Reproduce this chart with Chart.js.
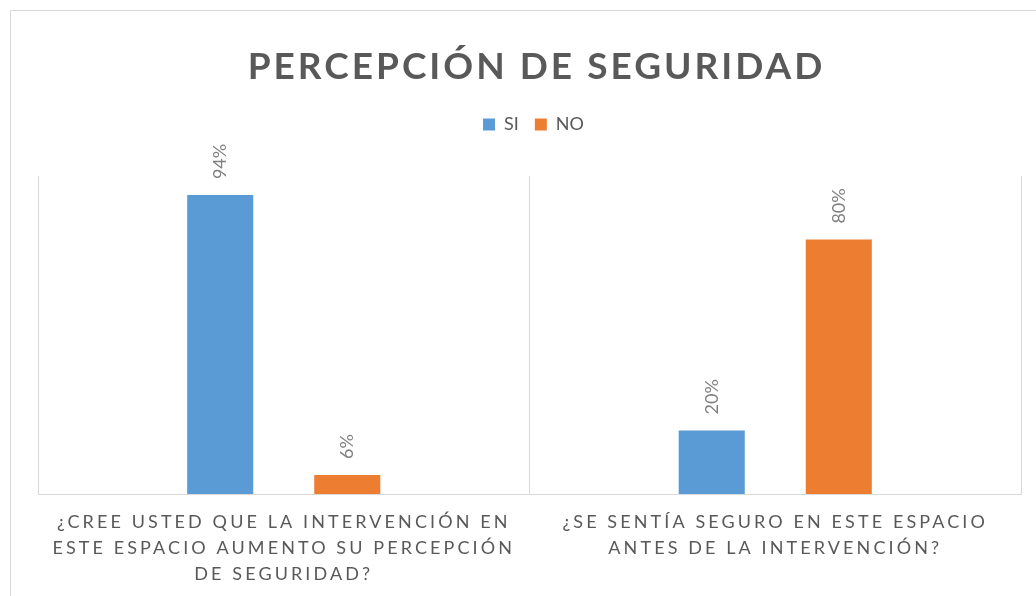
<!DOCTYPE html>
<html>
<head>
<meta charset="utf-8">
<script src="https://cdn.jsdelivr.net/npm/chart.js@4/dist/chart.umd.min.js"></script>
<style>
  html, body { margin: 0; padding: 0; background: #ffffff; overflow: hidden; }
  #frame { position: absolute; left: 10px; top: 10px; width: 1100px; height: 700px; border: 1px solid #d9d9d9; box-sizing: border-box; }
  #wrap { position: absolute; left: 0; top: 0; width: 1036px; height: 596px; }
</style>
</head>
<body>
<div id="frame"></div>
<div id="wrap"><canvas id="c" width="1036" height="596"></canvas></div>
<script>
const chartTitle = 'PERCEPCIÓN DE SEGURIDAD';
const categories = [
  ['¿CREE USTED QUE LA INTERVENCIÓN EN', 'ESTE ESPACIO AUMENTO SU PERCEPCIÓN', 'DE SEGURIDAD?'],
  ['¿SE SENTÍA SEGURO EN ESTE ESPACIO', 'ANTES DE LA INTERVENCIÓN?']
];
const seriesNames = ['SI', 'NO'];
const siValues = [0.94, 0.20];
const noValues = [0.06, 0.80];

const TEXT = '#595959';
const GRID = '#d9d9d9';

const spacingPlugin = {
  id: 'spacing',
  beforeDraw(chart) {
    if (chart.$patched) return;
    chart.$patched = true;
    const tb = chart.titleBlock;
    const origTitle = tb.draw;
    tb.draw = function () {
      const ctx = this.ctx;
      ctx.save();
      ctx.translate(7, 0);
      ctx.letterSpacing = '3px';
      origTitle.apply(this, arguments);
      ctx.restore();
    };
    const lg = chart.legend;
    const origLegend = lg.draw;
    lg.draw = function () {
      const ctx = this.ctx;
      ctx.save();
      ctx.translate(4, 0);
      origLegend.apply(this, arguments);
      ctx.restore();
    };
    const xs = chart.scales.x;
    const origLabels = xs.drawLabels;
    xs.drawLabels = function () {
      const ctx = this.ctx;
      ctx.save();
      ctx.letterSpacing = '3.1px';
      origLabels.apply(this, arguments);
      ctx.restore();
    };
  }
};

const valueLabels = {
  id: 'valueLabels',
  afterDatasetsDraw(chart) {
    const ctx = chart.ctx;
    ctx.save();
    ctx.font = '18px Lato';
    ctx.fillStyle = '#808080';
    ctx.textAlign = 'left';
    ctx.textBaseline = 'middle';
    chart.data.datasets.forEach((ds, di) => {
      const meta = chart.getDatasetMeta(di);
      meta.data.forEach((bar, i) => {
        const txt = Math.round(ds.data[i] * 100) + '%';
        ctx.save();
        ctx.translate(bar.x, bar.y - 16);
        ctx.rotate(-Math.PI / 2);
        ctx.fillText(txt, 0, 0);
        ctx.restore();
      });
    });
    ctx.restore();
  }
};

new Chart(document.getElementById('c'), {
  type: 'bar',
  data: {
    labels: categories,
    datasets: [
      { label: seriesNames[0], data: siValues, backgroundColor: '#5b9bd5', categoryPercentage: 0.517, barPercentage: 0.52 },
      { label: seriesNames[1], data: noValues, backgroundColor: '#ed7d31', categoryPercentage: 0.517, barPercentage: 0.52 }
    ]
  },
  options: {
    responsive: false,
    animation: false,
    devicePixelRatio: 1,
    layout: { padding: { left: 38, right: 15, top: 45, bottom: 8 } },
    plugins: {
      title: {
        display: true,
        text: chartTitle,
        color: TEXT,
        font: { family: 'Lato', size: 37, weight: 'bold', lineHeight: 1.2 },
        padding: { top: 0, bottom: 10 }
      },
      legend: {
        display: true,
        position: 'top',
        labels: {
          color: TEXT,
          font: { family: 'Lato', size: 18 },
          boxWidth: 12,
          boxHeight: 12,
          padding: 16
        }
      },
      tooltip: { enabled: false }
    },
    scales: {
      x: {
        position: 'bottom',
        grid: { display: true, color: GRID, lineWidth: 1, drawTicks: false, offset: true },
        border: { display: true, color: GRID, width: 1 },
        ticks: {
          color: TEXT,
          font: { family: 'Lato', size: 18, lineHeight: 1.444 },
          padding: 15,
          maxRotation: 0,
          minRotation: 0,
          autoSkip: false
        },
        afterFit(scale) { scale.height = 94; }
      },
      xTop: {
        type: 'category',
        position: 'top',
        display: true,
        grid: { display: false, drawTicks: false },
        border: { display: false },
        ticks: { display: false },
        afterFit(scale) { scale.height = 32.6; }
      },
      y: {
        display: false,
        min: 0,
        max: 1
      }
    }
  },
  plugins: [spacingPlugin, valueLabels]
});
</script>
</body>
</html>
